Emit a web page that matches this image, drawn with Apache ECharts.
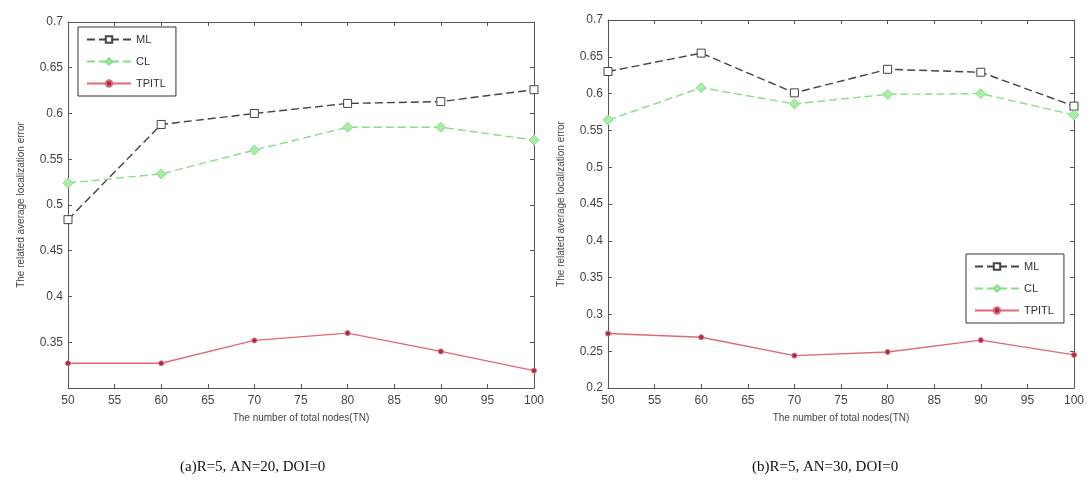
<!DOCTYPE html>
<html><head><meta charset="utf-8">
<script src="https://cdn.jsdelivr.net/npm/echarts@6/dist/echarts.min.js"></script>
<style>html,body{margin:0;padding:0;background:#fff}#c{width:1088px;height:486px}</style>
</head><body><div id="c"></div>
<script>
const xValues = [50, 60, 70, 80, 90, 100];
const mlA = [0.484, 0.588, 0.600, 0.611, 0.613, 0.626];
const clA = [0.524, 0.534, 0.560, 0.585, 0.585, 0.571];
const tpA = [0.327, 0.327, 0.352, 0.360, 0.340, 0.319];
const mlB = [0.630, 0.655, 0.601, 0.633, 0.629, 0.583];
const clB = [0.564, 0.608, 0.586, 0.599, 0.600, 0.571];
const tpB = [0.274, 0.269, 0.244, 0.249, 0.265, 0.245];
const seriesNames = ['ML', 'CL', 'TPITL'];
const xTitle = 'The number of total nodes(TN)';
const yTitle = 'The related average localization error';
const captions = ['(a)R=5, AN=20, DOI=0', '(b)R=5, AN=30, DOI=0'];

const pair = v => v.map((y, i) => [xValues[i], y]);
const axisCol = '#555';
const grids = [
  {left: 68, top: 22, width: 466, height: 366},
  {left: 608, top: 20, width: 466, height: 368}
];
const ranges = [[0.3, 0.7], [0.2, 0.7]];
const xAxis = [], yAxis = [];
[0, 1].forEach(g => {
  xAxis.push({type: 'value', gridIndex: g, min: 50, max: 100, interval: 5, position: 'bottom',
    name: xTitle, nameLocation: 'middle', nameGap: 25,
    nameTextStyle: {fontSize: 10, color: '#444', fontFamily: 'Liberation Sans'},
    axisLine: {onZero: false, lineStyle: {color: axisCol}},
    axisTick: {inside: true, length: 4, lineStyle: {color: axisCol}},
    axisLabel: {fontSize: 12, color: '#444', margin: 7, fontFamily: 'Liberation Sans'},
    splitLine: {show: false}});
  xAxis.push({type: 'value', gridIndex: g, min: 50, max: 100, interval: 5, position: 'top',
    axisLine: {onZero: false, lineStyle: {color: axisCol}},
    axisTick: {inside: true, length: 4, lineStyle: {color: axisCol}},
    axisLabel: {show: false}, splitLine: {show: false}});
  yAxis.push({type: 'value', gridIndex: g, min: ranges[g][0], max: ranges[g][1], interval: 0.05, position: 'left',
    name: yTitle, nameLocation: 'middle', nameGap: 42, nameRotate: 90,
    nameTextStyle: {fontSize: 10, color: '#444', fontFamily: 'Liberation Sans'},
    axisLine: {onZero: false, lineStyle: {color: axisCol}},
    axisTick: {inside: true, length: 4, lineStyle: {color: axisCol}},
    axisLabel: {fontSize: 12, color: '#444', margin: 5, showMinLabel: g === 1, fontFamily: 'Liberation Sans',
      formatter: v => String(+v.toFixed(2))},
    splitLine: {show: false}});
  yAxis.push({type: 'value', gridIndex: g, min: ranges[g][0], max: ranges[g][1], interval: 0.05, position: 'right',
    axisLine: {onZero: false, lineStyle: {color: axisCol}},
    axisTick: {inside: true, length: 4, lineStyle: {color: axisCol}},
    axisLabel: {show: false}, splitLine: {show: false}});
});

const styles = {
  ML: {color: '#444', type: [8, 4], symbol: 'rect', size: 8, fill: '#fff', width: 1.4},
  CL: {color: '#88dd88', type: [8, 4], symbol: 'diamond', size: 10, fill: '#a8eea8', width: 1.4},
  TPITL: {color: '#e06878', type: 'solid', symbol: 'circle', size: 5, fill: '#a03040', width: 1.4}
};
const data = [[mlA, clA, tpA], [mlB, clB, tpB]];
const series = [];
[0, 1].forEach(g => {
  seriesNames.forEach((n, k) => {
    const s = styles[n];
    series.push({name: n, type: 'line', xAxisIndex: g * 2, yAxisIndex: g * 2,
      data: pair(data[g][k]), symbol: s.symbol, symbolSize: s.size,
      lineStyle: {color: s.color, type: s.type, width: s.width},
      itemStyle: {color: s.fill, borderColor: s.color, borderWidth: 1},
      animation: false});
  });
});

const legendCommon = {orient: 'vertical', data: seriesNames, itemWidth: 44, itemHeight: 8, itemGap: 11,
  borderColor: '#333', borderWidth: 1, padding: [7, 10, 7, 8], backgroundColor: '#fff',
  textStyle: {fontSize: 11, color: '#333', fontFamily: 'Liberation Sans'}};

const chart = echarts.init(document.getElementById('c'));
chart.setOption({
  backgroundColor: '#fff',
  animation: false,
  grid: grids,
  xAxis, yAxis, series,
  legend: [
    Object.assign({left: 78, top: 27}, legendCommon),
    Object.assign({left: 966, top: 254}, legendCommon)
  ],
  graphic: [
    {type: 'text', left: 180, top: 460, style: {text: captions[0], fontSize: 15, fontFamily: 'Liberation Serif', fill: '#111'}},
    {type: 'text', left: 752, top: 460, style: {text: captions[1], fontSize: 15, fontFamily: 'Liberation Serif', fill: '#111'}}
  ]
});
</script></body></html>
